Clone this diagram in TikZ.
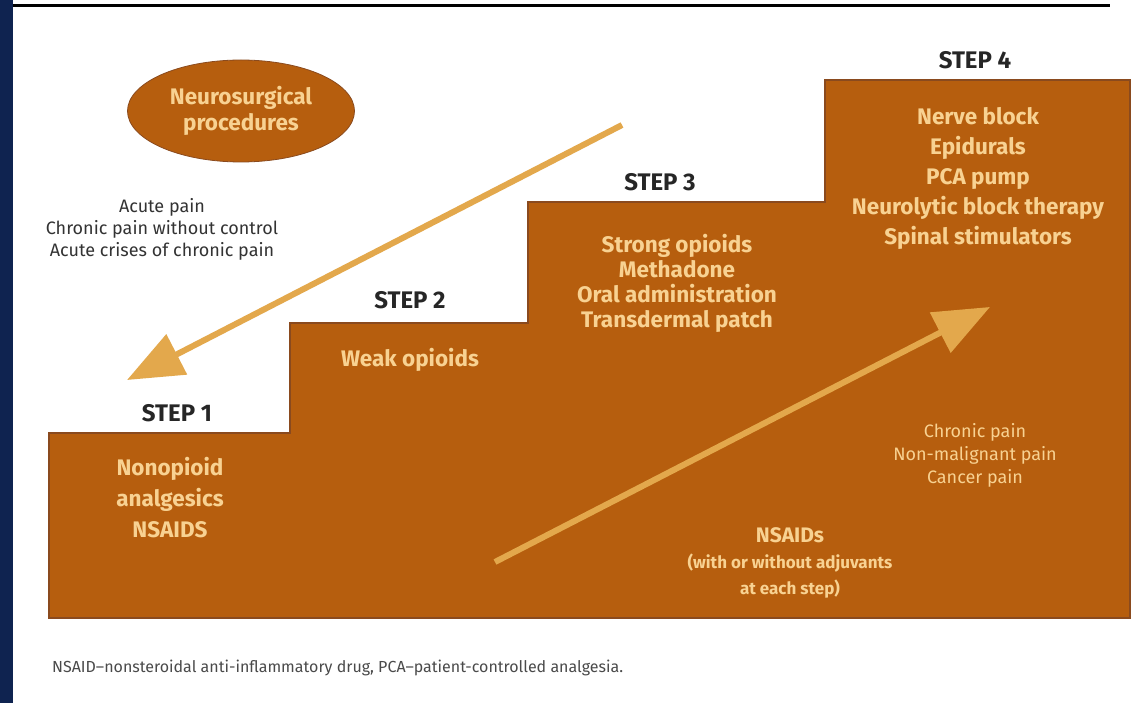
\documentclass[tikz,border=0pt]{standalone}
\usepackage{fontspec}
\setmainfont{Fira Sans}
\usetikzlibrary{arrows.meta,positioning,shapes.geometric}
\definecolor{navyband}{HTML}{0F2350}
\definecolor{stairbrown}{HTML}{B65E0E}
\definecolor{stairedge}{HTML}{8A4A1E}
\definecolor{cream}{HTML}{F8D292}
\definecolor{gold}{HTML}{E3A84C}
\definecolor{inkgray}{HTML}{333333}
\definecolor{notegray}{HTML}{4A4A4A}
\tikzset{
  steplabel/.style={font=\fontsize{24}{28}\selectfont\bfseries, text=black!85, inner sep=0pt},
  stairtext/.style={font=\fontsize{22.5}{31}\selectfont\bfseries, text=cream, align=center, inner sep=0pt},
  smalltext/.style={font=\fontsize{18}{22}\selectfont, text=inkgray, align=center, inner sep=0pt},
  smallcream/.style={font=\fontsize{18}{23}\selectfont, text=cream, align=center, inner sep=0pt},
  bigarrow/.style={-{Triangle[length=56pt,width=44pt]}, line width=6pt, draw=gold}
}

\begin{document}
\begin{tikzpicture}[x=1pt,y=-1pt]
  \useasboundingbox (0,0) rectangle (1132,703);
  \fill[white] (0,0) rectangle (1132,703);
  \fill[navyband] (0,0) rectangle (13,703);
  \draw[line width=3pt] (13,6) -- (1110,6);

  % staircase
  \draw[fill=stairbrown, draw=stairedge, line width=1.5pt]
    (49,618) -- (49,433) -- (290,433) -- (290,323) -- (528,323) -- (528,202)
    -- (825,202) -- (825,80) -- (1130,80) -- (1130,618) -- cycle;

  \node[ellipse, fill=stairbrown, draw=stairedge, thick, minimum width=227pt, minimum height=102pt,
        font=\fontsize{22.5}{26}\selectfont\bfseries, text=cream, align=center, inner sep=0pt]
        (neuro) at (241,111) {Neurosurgical\\procedures};
  \node[smalltext] (acute) at (162,229) {Acute pain\\Chronic pain without control\\Acute crises of chronic pain};

  \node[steplabel] (step1) at (177,413) {STEP 1};
  \node[steplabel] (step2) at (410,300) {STEP 2};
  \node[steplabel] (step3) at (660,182) {STEP 3};
  \node[steplabel] (step4) at (975,60) {STEP 4};

  \node[stairtext] (drugs1) at (170,498) {Nonopioid\\analgesics\\NSAIDS};
  \node[stairtext] (drugs2) at (410,360) {Weak opioids};
  \node[stairtext, font=\fontsize{22.5}{25}\selectfont\bfseries] (drugs3) at (677,283)
    {Strong opioids\\Methadone\\Oral administration\\Transdermal patch};
  \node[stairtext, font=\fontsize{22.5}{30}\selectfont\bfseries] (drugs4) at (978,178)
    {Nerve block\\Epidurals\\PCA pump\\Neurolytic block therapy\\Spinal stimulators};

  \node[smallcream] (kinds) at (975,455) {Chronic pain\\Non-malignant pain\\Cancer pain};
  \node[smallcream, font=\fontsize{17}{26}\selectfont\bfseries] (adjuv) at (790,563)
    {{\fontsize{21}{26}\selectfont NSAIDs}\\(with or without adjuvants\\at each step)};

  \node[font=\fontsize{16}{18}\selectfont, text=notegray, anchor=west, inner sep=0pt] (note) at (52,668)
    {NSAID--nonsteroidal anti-inflammatory drug, PCA--patient-controlled analgesia.};

  % arrows
  \coordinate (downstart) at (622,125);
  \coordinate (downend) at (127,380);
  \coordinate (upstart) at (495,562);
  \coordinate (upend) at (990,307);
  \draw[bigarrow] (downstart) -- (downend);
  \draw[bigarrow] (upstart) -- (upend);
\end{tikzpicture}
\end{document}
